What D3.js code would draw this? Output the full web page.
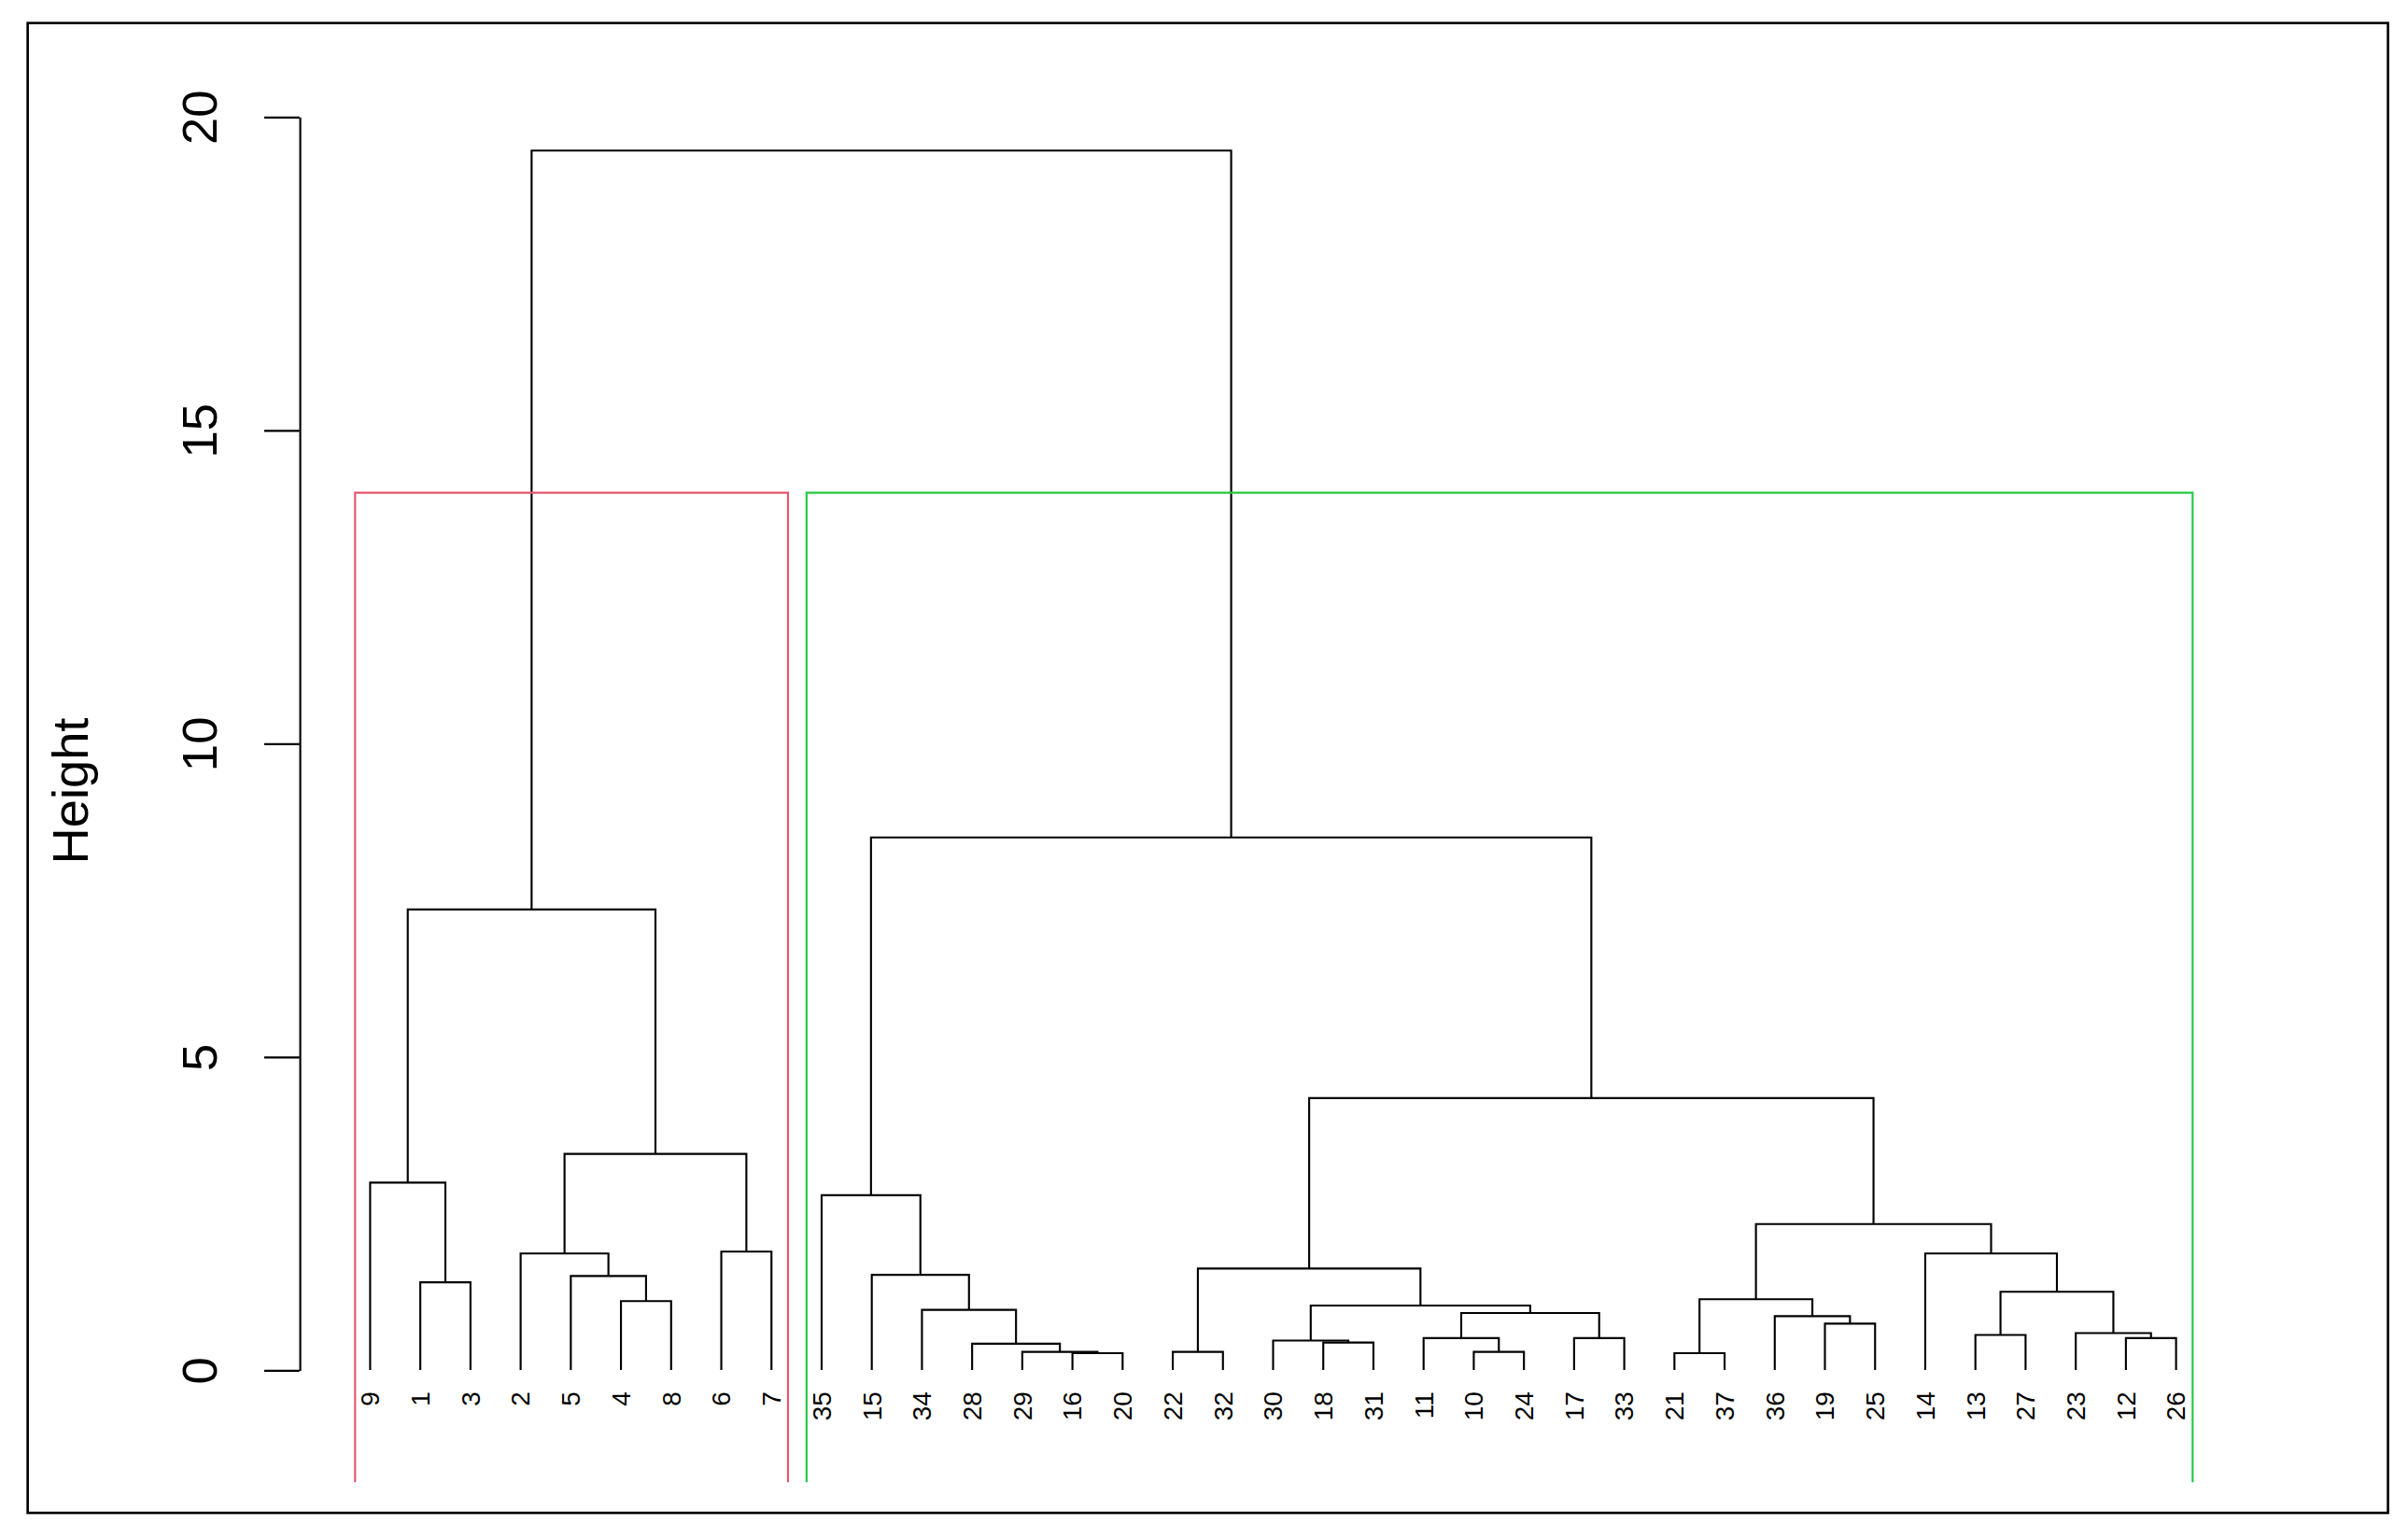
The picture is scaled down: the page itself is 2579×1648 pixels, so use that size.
<!DOCTYPE html>
<html>
<head>
<meta charset="utf-8">
<script src="https://cdn.jsdelivr.net/npm/d3@7"></script>
<style>
  body { margin: 0; background: #fff; }
  svg { display: block; }
  text { font-family: "Liberation Sans", Arial, sans-serif; fill: #000; }
</style>
</head>
<body>
<svg></svg>
<script>
// leaf order as drawn, left to right
const leafOrder = [9, 1, 3, 2, 5, 4, 8, 6, 7, 35, 15, 34, 28, 29, 16, 20, 22, 32, 30, 18, 31,
                   11, 10, 24, 17, 33, 21, 37, 36, 19, 25, 14, 13, 27, 23, 12, 26];

// merges, R hclust style: negative = leaf, positive = earlier merge (1-based)
const mergeA = [-16, -29, -28, -34, -15, -35, -22, -18, -30, -10, -11, -17, 11, 9, 7, -21, -19, -36,
                16, -12, -23, -13, 22, -14, 19, 15, 6, -1, -9, -4, -5, -2, -6, 32, 29, 35];
const mergeB = [-20, 1, 2, 3, 4, 5, -32, -31, 8, -24, 10, -33, 12, 13, 14, -37, -25, 17,
                18, -26, 20, -27, 21, 23, 24, 25, 26, -3, 28, -8, 30, 31, -7, 33, 34, 27];
const mergeHeight = [0.27, 0.29, 0.42, 0.96, 1.52, 2.79, 0.29, 0.44, 0.47, 0.29, 0.51, 0.51, 0.91, 1.03, 1.62,
                     0.27, 0.74, 0.86, 1.13, 0.51, 0.59, 0.56, 1.25, 1.86, 2.33, 4.34, 8.50,
                     1.40, 2.99, 1.10, 1.50, 1.86, 1.89, 3.45, 7.35, 19.46];

// cut boxes (rect.hclust k = 2)
const boxLeaves = [[9, 7], [35, 26]];
const boxColors = ["#E8566E", "#22C944"];
const boxHeight = 14.0;

const yTicks = [0, 5, 10, 15, 20];

// drawn in a 1568-wide coordinate space, scaled to the window
const W = 1568, H = 1002;
const svg = d3.select("svg")
  .attr("width", 2579).attr("height", 1648)
  .attr("viewBox", `0 0 ${W} ${H}`);

const x = d3.scalePoint().domain(leafOrder).range([241, 1417]);
const y = d3.scaleLinear().domain([0, 20]).range([892, 76]);

// outer frame
svg.append("rect").attr("x", 18).attr("y", 15).attr("width", 1537).attr("height", 970)
  .attr("fill", "none").attr("stroke", "#000").attr("stroke-width", 1.6);

// y axis
const yAxis = svg.append("g").attr("transform", "translate(195,0)")
  .call(d3.axisLeft(y).tickValues(yTicks).tickSize(23).tickSizeOuter(0));
yAxis.select(".domain").attr("stroke-width", 1.3);
yAxis.selectAll(".tick line").attr("stroke-width", 1.3);
yAxis.selectAll(".tick text")
  .attr("font-size", 32)
  .attr("x", null).attr("dy", null)
  .attr("text-anchor", "middle")
  .attr("transform", "translate(-54,0) rotate(-90)");

svg.append("text")
  .attr("transform", `translate(57,515) rotate(-90)`)
  .attr("text-anchor", "middle")
  .attr("font-size", 33)
  .text("Height");

// compute node positions and draw links
const nodeX = [];
function pos(i) {
  if (i < 0) return [x(-i), 0];
  return [nodeX[i - 1], mergeHeight[i - 1]];
}
const lines = svg.append("g").attr("stroke", "#000").attr("stroke-width", 1.3).attr("fill", "none");
mergeA.forEach((a, k) => {
  const [xa, ha] = pos(a);
  const [xb, hb] = pos(mergeB[k]);
  const h = mergeHeight[k];
  nodeX.push((xa + xb) / 2);
  lines.append("path")
    .attr("d", `M${xa},${y(ha)}V${y(h)}H${xb}V${y(hb)}`);
});

// leaf labels
svg.append("g").selectAll("text").data(leafOrder).join("text")
  .attr("transform", d => `translate(${x(d) + 6},906) rotate(-90)`)
  .attr("text-anchor", "end")
  .attr("font-size", 17)
  .text(d => d);

// cluster boxes
const step = x.step();
boxLeaves.forEach(([l, r], i) => {
  const x0 = x(l) - step * 0.3, x1 = x(r) + step * 0.33;
  svg.append("path")
    .attr("d", `M${x0},965V${y(boxHeight)}H${x1}V965`)
    .attr("fill", "none").attr("stroke", boxColors[i]).attr("stroke-width", 1.3);
});
</script>
</body>
</html>
